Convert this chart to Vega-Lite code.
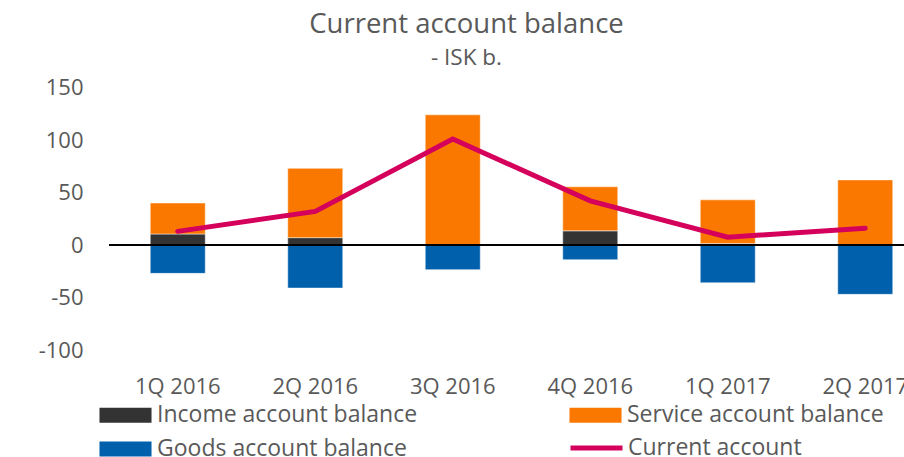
{
  "$schema": "https://vega.github.io/schema/vega-lite/v6.json",
  "width": 795,
  "height": 262.5,
  "autosize": {"type": "none"},
  "padding": {"left": 109, "top": 87.5, "right": 0, "bottom": 107},
  "background": "white",
  "config": {
    "view": {"stroke": null},
    "font": "Open Sans",
    "axis": {"labelColor": "#595959", "labelFont": "Open Sans", "labelFontSize": 22, "ticks": false, "domain": false, "grid": false, "title": null},
    "legend": {"labelFont": "Open Sans", "labelFontSize": 23, "labelColor": "#595959", "labelLimit": 0, "title": null}
  },
  "title": {
    "text": "Current account balance",
    "subtitle": "- ISK b.",
    "fontSize": 27.5,
    "fontWeight": "normal",
    "subtitleFontSize": 22.5,
    "color": "#595959",
    "subtitleColor": "#595959",
    "font": "Open Sans",
    "subtitleFont": "Open Sans",
    "anchor": "middle",
    "frame": "group",
    "dx": -40,
    "offset": 7,
    "subtitlePadding": 9
  },
  "data": {
    "values": [
      {"q": "1Q 2016", "series": "Income account balance", "value": 10.5},
      {"q": "1Q 2016", "series": "Service account balance", "value": 29.5},
      {"q": "1Q 2016", "series": "Goods account balance", "value": -27},
      {"q": "1Q 2016", "series": "Current account", "value": 13},
      {"q": "2Q 2016", "series": "Income account balance", "value": 7},
      {"q": "2Q 2016", "series": "Service account balance", "value": 66},
      {"q": "2Q 2016", "series": "Goods account balance", "value": -41},
      {"q": "2Q 2016", "series": "Current account", "value": 32},
      {"q": "3Q 2016", "series": "Income account balance", "value": 0.5},
      {"q": "3Q 2016", "series": "Service account balance", "value": 123.5},
      {"q": "3Q 2016", "series": "Goods account balance", "value": -23.5},
      {"q": "3Q 2016", "series": "Current account", "value": 101},
      {"q": "4Q 2016", "series": "Income account balance", "value": 13.5},
      {"q": "4Q 2016", "series": "Service account balance", "value": 42},
      {"q": "4Q 2016", "series": "Goods account balance", "value": -14},
      {"q": "4Q 2016", "series": "Current account", "value": 42},
      {"q": "1Q 2017", "series": "Income account balance", "value": 1.5},
      {"q": "1Q 2017", "series": "Service account balance", "value": 41.5},
      {"q": "1Q 2017", "series": "Goods account balance", "value": -36},
      {"q": "1Q 2017", "series": "Current account", "value": 7.5},
      {"q": "2Q 2017", "series": "Income account balance", "value": 0},
      {"q": "2Q 2017", "series": "Service account balance", "value": 62},
      {"q": "2Q 2017", "series": "Goods account balance", "value": -47},
      {"q": "2Q 2017", "series": "Current account", "value": 16}
    ]
  },
  "resolve": {"scale": {"color": "independent"}, "legend": {"color": "independent"}},
  "encoding": {
    "x": {
      "field": "q", "type": "nominal", "sort": null,
      "scale": {"range": [0, 825], "paddingInner": 0.6, "paddingOuter": 0.3},
      "axis": {"labelAngle": 0, "labelPadding": 26, "orient": "bottom"}
    }
  },
  "layer": [
    {
      "transform": [{"filter": "datum.series !== 'Current account'"}],
      "mark": {"type": "bar", "stroke": "#ffffff", "strokeWidth": 0.8, "strokeOpacity": 0.6},
      "encoding": {
        "y": {
          "field": "value", "type": "quantitative", "stack": "zero",
          "scale": {"domain": [-100, 150], "nice": false, "zero": false},
          "axis": {"values": [-100, -50, 0, 50, 100, 150], "labelPadding": 26, "labelExpr": "toString(datum.value)"}
        },
        "order": {"field": "series", "sort": "ascending"},
        "color": {
          "field": "series", "type": "nominal",
          "scale": {
            "domain": ["Income account balance", "Service account balance", "Goods account balance"],
            "range": ["#333333", "#FA7800", "#0060AC"]
          },
          "legend": {
            "orient": "none",
            "direction": "horizontal",
            "legendX": 5,
            "legendY": 316,
            "columns": 2,
            "columnPadding": 151,
            "rowPadding": 10,
            "labelOffset": 20,
            "symbolSize": 225,
            "symbolStrokeWidth": 0,
            "symbolOpacity": 1,
            "symbolType": "M-3.47,-1H3.47V1H-3.47Z"
          }
        }
      }
    },
    {
      "data": {"values": [{"zero": 0}]},
      "mark": {"type": "rule", "color": "#000000", "strokeWidth": 2},
      "encoding": {"y": {"field": "zero", "type": "quantitative"}, "x": null}
    },
    {
      "transform": [{"filter": "datum.series === 'Current account'"}],
      "mark": {"type": "line", "strokeWidth": 5, "strokeCap": "round", "strokeJoin": "miter"},
      "encoding": {
        "y": {"field": "value", "type": "quantitative"},
        "color": {
          "field": "series", "type": "nominal",
          "scale": {"domain": ["Current account"], "range": ["#D4005C"]},
          "legend": {
            "orient": "none",
            "legendX": 459,
            "legendY": 332,
            "labelOffset": 3,
            "symbolType": "stroke",
            "symbolSize": 2704,
            "symbolStrokeWidth": 5,
            "symbolOpacity": 1
          }
        }
      }
    }
  ]
}
